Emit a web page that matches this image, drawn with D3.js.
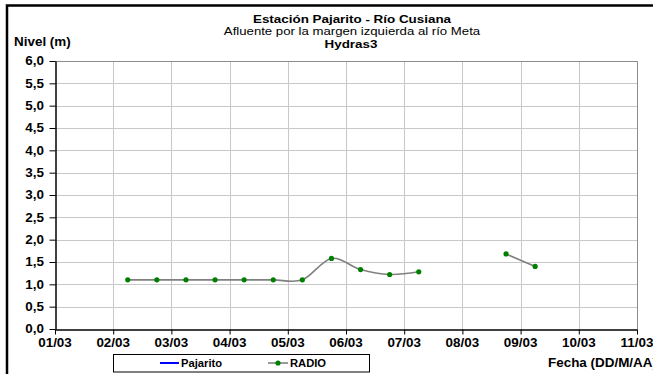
<!DOCTYPE html>
<html><head><meta charset="utf-8">
<script src="https://cdn.jsdelivr.net/npm/d3@7"></script>
<style>body{margin:0;background:#fff;} svg{display:block;font-family:"Liberation Sans",Arial,sans-serif;}</style>
</head><body>
<svg id="c" width="653" height="374"></svg>
<script>
const titleLines = ["Estación Pajarito - Río Cusiana", "Afluente por la margen izquierda al río Meta", "Hydras3"];
const yAxisTitle = "Nivel (m)";
const xAxisTitle = "Fecha (DD/M/AA)";
const seriesNames = ["Pajarito", "RADIO"];
const xTickDates = ["2012-03-01","2012-03-02","2012-03-03","2012-03-04","2012-03-05","2012-03-06","2012-03-07","2012-03-08","2012-03-09","2012-03-10","2012-03-11"];
const yTicks = [0,0.5,1,1.5,2,2.5,3,3.5,4,4.5,5,5.5,6];
const radioTimes = ["2012-03-02T06:00","2012-03-02T18:00","2012-03-03T06:00","2012-03-03T18:00","2012-03-04T06:00","2012-03-04T18:00","2012-03-05T06:00","2012-03-05T18:00","2012-03-06T06:00","2012-03-06T18:00","2012-03-07T06:00","2012-03-07T18:00","2012-03-08T06:00","2012-03-08T18:00","2012-03-09T06:00"];
const radioValues = [1.10,1.10,1.10,1.10,1.10,1.10,1.10,1.58,1.33,1.22,1.28,null,null,1.68,1.40];
const pajaritoValues = [];

const svg = d3.select("#c");
const W = 653, H = 374;
const L = 55, R = 637, T = 61, B = 329;
const SX = 1.12;
const parse = s => new Date(s + (s.length === 10 ? "T00:00" : "") + ":00Z");
const x = d3.scaleUtc().domain([parse(xTickDates[0]), parse(xTickDates[xTickDates.length-1])]).range([L, R]);
const y = d3.scaleLinear().domain([0, 6]).range([B, T]);

function label(parent, tx, ty, text, size, bold, anchor, sx) {
  return parent.append("text")
    .attr("transform", `translate(${tx},${ty}) scale(${sx || SX},1)`)
    .attr("font-size", size).attr("font-weight", bold ? "bold" : "normal")
    .attr("text-anchor", anchor || "start").attr("fill", "#000").text(text);
}

// outer border
svg.append("rect").attr("x", 7).attr("y", 5.5).attr("width", W + 10).attr("height", H + 10)
  .attr("fill", "none").attr("stroke", "#000").attr("stroke-width", 2.5);

// grid
const g = svg.append("g");
g.selectAll("line.h").data(yTicks.slice(1)).join("line")
  .attr("x1", L).attr("x2", R).attr("y1", d => Math.round(y(d)) + 0.5).attr("y2", d => Math.round(y(d)) + 0.5)
  .attr("stroke", "#c8c8c8").attr("stroke-width", 1);
g.selectAll("line.v").data(xTickDates.slice(1)).join("line")
  .attr("y1", T).attr("y2", B).attr("x1", d => Math.round(x(parse(d))) + 0.5).attr("x2", d => Math.round(x(parse(d))) + 0.5)
  .attr("stroke", "#c8c8c8").attr("stroke-width", 1);
svg.append("path").attr("d", `M${L},${Math.round(T)+0.5}H${Math.round(R)+0.5}V${B}`).attr("fill", "none").attr("stroke", "#8c8c8c").attr("stroke-width", 1);

// axes
const yAxis = d3.axisLeft(y).tickValues(yTicks).tickSize(6).tickSizeOuter(0).tickFormat(() => "");
const ya = svg.append("g").attr("transform", `translate(${L + 0.5},0)`).call(yAxis);
const xAxis = d3.axisBottom(x).tickValues(xTickDates.map(parse)).tickSize(5).tickSizeOuter(0).tickFormat(() => "");
const xa = svg.append("g").attr("transform", `translate(0,${B + 0.5})`).call(xAxis);
[ya, xa].forEach(a => {
  a.select(".domain").attr("stroke", "#000").attr("stroke-width", 1.5);
  a.selectAll(".tick line").attr("stroke", "#000").attr("stroke-width", 1);
});
const fmtY = d => d3.format(".1f")(d).replace(".", ",");
const fmtX = d3.utcFormat("%d/%m");
yTicks.forEach(v => label(svg, 44, y(v) + 4.3, fmtY(v), 12, true, "end"));
xTickDates.forEach(d => label(svg, x(parse(d)), 347, fmtX(parse(d)), 12, true, "middle"));

// RADIO series
const pts = radioTimes.map((t, i) => ({t: parse(t), v: radioValues[i]}));
const line = d3.line().defined(d => d.v != null).x(d => x(d.t)).y(d => y(d.v)).curve(d3.curveCardinal.tension(0));
svg.append("path").datum(pts).attr("d", line).attr("fill", "none").attr("stroke", "#808080").attr("stroke-width", 1.6);
svg.selectAll("circle.p").data(pts.filter(d => d.v != null)).join("circle")
  .attr("cx", d => x(d.t)).attr("cy", d => y(d.v)).attr("r", 2.6).attr("fill", "#008000");

// title block
label(svg, 352, 23, titleLines[0], 11, true, "middle", 1.22);
label(svg, 352, 35.4, titleLines[1], 11, false, "middle", 1.2);
label(svg, 351, 47.8, titleLines[2], 11, true, "middle", 1.22);

label(svg, 14, 46, yAxisTitle, 12, true);
label(svg, 548, 367, xAxisTitle, 12, true);

// legend
const lg = svg.append("g");
lg.append("rect").attr("x", 113.5).attr("y", 354.5).attr("width", 256).attr("height", 17.5)
  .attr("fill", "#fff").attr("stroke", "#000").attr("stroke-width", 1);
lg.append("line").attr("x1", 160).attr("x2", 179).attr("y1", 363).attr("y2", 363).attr("stroke", "#0000ff").attr("stroke-width", 2);
label(lg, 181, 367, seriesNames[0], 10, true);
lg.append("line").attr("x1", 268).attr("x2", 288).attr("y1", 363).attr("y2", 363).attr("stroke", "#808080").attr("stroke-width", 1.6);
lg.append("circle").attr("cx", 278).attr("cy", 363).attr("r", 2.6).attr("fill", "#008000");
label(lg, 290, 367, seriesNames[1], 10, true);
</script>
</body></html>
